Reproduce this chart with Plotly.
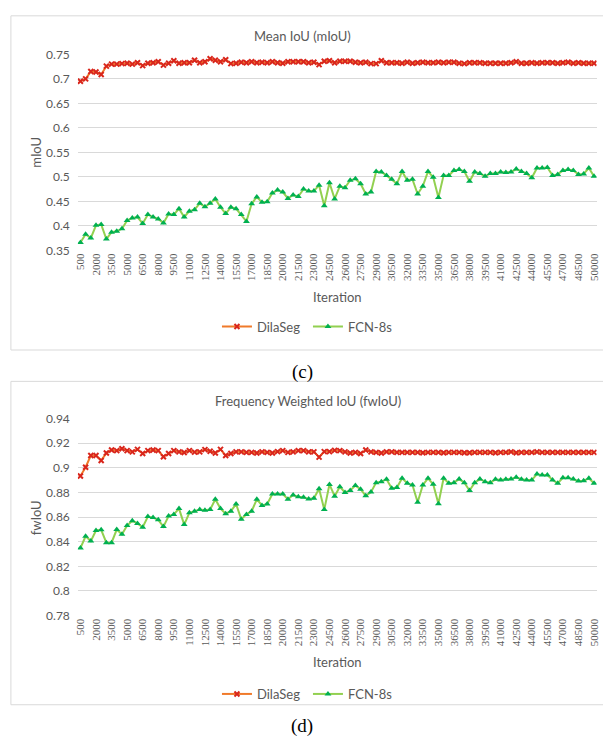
import plotly.graph_objects as go

iterations = [str(v) for v in range(500, 50001, 500)]
tick_labels = iterations[::3]

dilaseg_miou = [
    0.695, 0.700, 0.715, 0.714, 0.709, 0.726, 0.730, 0.730, 0.731, 0.732,
    0.730, 0.733, 0.727, 0.732, 0.733, 0.735, 0.728, 0.732, 0.737, 0.732,
    0.733, 0.733, 0.738, 0.733, 0.735, 0.741, 0.738, 0.735, 0.739, 0.731,
    0.732, 0.734, 0.733, 0.735, 0.733, 0.734, 0.733, 0.735, 0.733, 0.732,
    0.735, 0.735, 0.735, 0.735, 0.733, 0.734, 0.729, 0.736, 0.737, 0.733,
    0.736, 0.736, 0.736, 0.734, 0.733, 0.734, 0.731, 0.731, 0.737, 0.733,
    0.733, 0.733, 0.732, 0.734, 0.732, 0.733, 0.734, 0.733, 0.733, 0.734,
    0.733, 0.734, 0.734, 0.732, 0.731, 0.733, 0.733, 0.733, 0.732, 0.732,
    0.732, 0.732, 0.732, 0.733, 0.735, 0.732, 0.732, 0.733, 0.732, 0.733,
    0.733, 0.733, 0.732, 0.733, 0.734, 0.732, 0.733, 0.732, 0.732, 0.732,
]

fcn_miou = [
    0.366, 0.383, 0.375, 0.401, 0.403, 0.373, 0.387, 0.389, 0.394, 0.411,
    0.416, 0.418, 0.405, 0.423, 0.418, 0.414, 0.406, 0.424, 0.423, 0.435,
    0.418, 0.430, 0.433, 0.446, 0.439, 0.446, 0.455, 0.438, 0.425, 0.438,
    0.435, 0.423, 0.409, 0.445, 0.459, 0.448, 0.449, 0.467, 0.473, 0.469,
    0.456, 0.463, 0.460, 0.475, 0.471, 0.471, 0.483, 0.441, 0.488, 0.455,
    0.481, 0.478, 0.493, 0.496, 0.486, 0.465, 0.469, 0.511, 0.510, 0.503,
    0.495, 0.486, 0.511, 0.493, 0.495, 0.465, 0.481, 0.511, 0.499, 0.458,
    0.503, 0.503, 0.513, 0.515, 0.511, 0.491, 0.510, 0.507, 0.501, 0.507,
    0.507, 0.510, 0.509, 0.510, 0.516, 0.511, 0.507, 0.498, 0.518, 0.518,
    0.519, 0.503, 0.505, 0.513, 0.515, 0.513, 0.505, 0.506, 0.518, 0.501,
]

dilaseg_fwiou = [
    0.8934, 0.9005, 0.910, 0.910, 0.906, 0.912, 0.9145, 0.914, 0.9155, 0.914,
    0.913, 0.915, 0.9116, 0.914, 0.9145, 0.914, 0.909, 0.9116, 0.914, 0.913,
    0.9125, 0.914, 0.9128, 0.913, 0.9148, 0.9135, 0.912, 0.915, 0.910, 0.9116,
    0.913, 0.913, 0.9126, 0.9126, 0.912, 0.913, 0.9126, 0.912, 0.9132, 0.914,
    0.9126, 0.913, 0.914, 0.914, 0.913, 0.913, 0.9087, 0.9132, 0.9132, 0.9142,
    0.914, 0.913, 0.912, 0.9126, 0.9116, 0.9145, 0.913, 0.9126, 0.912, 0.913,
    0.9130, 0.9126, 0.9126, 0.9126, 0.9126, 0.9126, 0.9123, 0.9126, 0.9126, 0.9126,
    0.9123, 0.9126, 0.9126, 0.9126, 0.9123, 0.9123, 0.9126, 0.9126, 0.9126, 0.9126,
    0.9123, 0.9126, 0.9126, 0.9130, 0.9123, 0.9126, 0.9126, 0.9126, 0.9130, 0.9126,
    0.9126, 0.9126, 0.9126, 0.9126, 0.9126, 0.9126, 0.9126, 0.9126, 0.9126, 0.9126,
]

fcn_fwiou = [
    0.8348, 0.8444, 0.8405, 0.8491, 0.8497, 0.8392, 0.8392, 0.8499, 0.8460, 0.8531,
    0.8570, 0.8549, 0.8518, 0.8604, 0.8596, 0.8578, 0.8523, 0.8609, 0.8622, 0.8669,
    0.8539, 0.8635, 0.8648, 0.8661, 0.8656, 0.8661, 0.8745, 0.8669, 0.8627, 0.8648,
    0.8706, 0.8583, 0.8622, 0.8648, 0.8745, 0.8695, 0.8706, 0.8787, 0.8787, 0.8787,
    0.8745, 0.8779, 0.8766, 0.8761, 0.8748, 0.8753, 0.8831, 0.8661, 0.8865, 0.8770,
    0.8846, 0.8800, 0.8816, 0.8856, 0.8827, 0.8773, 0.8803, 0.8880, 0.8888, 0.8907,
    0.8835, 0.8840, 0.8915, 0.8875, 0.8861, 0.8720, 0.8861, 0.8915, 0.8867, 0.8709,
    0.8915, 0.8875, 0.8880, 0.8909, 0.8880, 0.8816, 0.8880, 0.8909, 0.8888, 0.8880,
    0.8907, 0.8901, 0.8907, 0.8909, 0.8923, 0.8907, 0.8901, 0.8901, 0.8950, 0.8941,
    0.8941, 0.8901, 0.8875, 0.8920, 0.8920, 0.8909, 0.8893, 0.8896, 0.8915, 0.8875,
]

W, H = 603, 749
def px(x):
    return x / W
def py(y):
    return 1 - y / H

GRID = "#D9D9D9"
TXT = "#595959"
SANS = "Lato, 'Open Sans', sans-serif"
SERIF = "'Liberation Serif', 'DejaVu Serif', serif"

fig = go.Figure()

def add_series(xa, ya, legend, dila, fcn):
    fig.add_trace(go.Scatter(
        x=iterations, y=dila, name="DilaSeg", mode="lines+markers",
        line=dict(color="#F07A2A", width=2),
        marker=dict(symbol="x-thin", size=5, color="#D9261C",
                    line=dict(color="#D9261C", width=2)),
        xaxis=xa, yaxis=ya, legend=legend))
    fig.add_trace(go.Scatter(
        x=iterations, y=fcn, name="FCN-8s", mode="lines+markers",
        line=dict(color="#92D050", width=2),
        marker=dict(symbol="triangle-up", size=6, color="#00B050"),
        xaxis=xa, yaxis=ya, legend=legend))

add_series("x", "y", "legend", dilaseg_miou, fcn_miou)
add_series("x2", "y2", "legend2", dilaseg_fwiou, fcn_fwiou)

xdom = [px(74.7), px(599.6)]
xaxis_common = dict(
    type="category", range=[-0.5, 99.5], tickmode="array",
    tickvals=tick_labels, ticktext=tick_labels, tickangle=-90,
    tickfont=dict(family=SERIF, size=11, color=TXT),
    showgrid=False, showline=False, zeroline=False, ticks="", domain=xdom,
)
yaxis_common = dict(
    showgrid=True, gridcolor=GRID, gridwidth=1, zeroline=False, showline=False,
    tickfont=dict(family=SANS, size=12, color=TXT), ticks="",
    ticklabelstandoff=7,
)

legend_common = dict(orientation="h", x=0.51, xanchor="center", yanchor="middle",
                     font=dict(family=SANS, size=13, color=TXT), bgcolor="rgba(0,0,0,0)",
                     itemwidth=30, entrywidth=46, entrywidthmode="pixels")

fig.update_layout(
    width=W, height=H,
    margin=dict(l=0, r=0, t=0, b=0),
    paper_bgcolor="white", plot_bgcolor="white",
    showlegend=True,
    xaxis=dict(**xaxis_common, anchor="y"),
    yaxis=dict(**yaxis_common, domain=[py(247.3), py(47.3)], range=[0.35, 0.75],
               tickvals=[0.35, 0.4, 0.45, 0.5, 0.55, 0.6, 0.65, 0.7, 0.75],
               ticktext=["0.35", "0.4", "0.45", "0.5", "0.55", "0.6", "0.65", "0.7", "0.75"],
               anchor="x"),
    xaxis2=dict(**xaxis_common, anchor="y2"),
    yaxis2=dict(**yaxis_common, domain=[py(620), py(419)], range=[0.78, 0.94],
                tickvals=[0.78, 0.8, 0.82, 0.84, 0.86, 0.88, 0.9, 0.92, 0.94],
                ticktext=["0.78", "0.8", "0.82", "0.84", "0.86", "0.88", "0.9", "0.92", "0.94"],
                anchor="x2"),
    legend=dict(**legend_common, y=py(325)),
    legend2=dict(**legend_common, y=py(700)),
)

shapes = [
    dict(type="rect", xref="paper", yref="paper", x0=px(7), x1=px(640), y0=py(349), y1=py(8),
         line=dict(color=GRID, width=1), fillcolor="rgba(0,0,0,0)", layer="below"),
    dict(type="rect", xref="paper", yref="paper", x0=px(7), x1=px(640), y0=py(711), y1=py(381),
         line=dict(color=GRID, width=1), fillcolor="rgba(0,0,0,0)", layer="below"),
]
fig.update_layout(shapes=shapes)

ann = [
    dict(text="Mean IoU (mIoU)", x=px(302), y=py(29), font=dict(family=SANS, size=13, color=TXT)),
    dict(text="mIoU", x=px(32), y=py(147), textangle=-90, font=dict(family=SANS, size=13, color=TXT)),
    dict(text="Iteration", x=px(337), y=py(295), font=dict(family=SANS, size=13, color=TXT)),
    dict(text="(c)", x=px(302), y=py(371), font=dict(family=SERIF, size=19, color="black")),
    dict(text="Frequency Weighted IoU (fwIoU)", x=px(308), y=py(401), font=dict(family=SANS, size=13, color=TXT)),
    dict(text="fwIoU", x=px(32), y=py(520), textangle=-90, font=dict(family=SANS, size=13, color=TXT)),
    dict(text="Iteration", x=px(337), y=py(667), font=dict(family=SANS, size=13, color=TXT)),
    dict(text="(d)", x=px(302), y=py(733), font=dict(family=SERIF, size=19, color="black")),
]
for a in ann:
    a.update(xref="paper", yref="paper", showarrow=False, xanchor="center", yanchor="middle")
fig.update_layout(annotations=ann)

fig.write_html("out.html")
